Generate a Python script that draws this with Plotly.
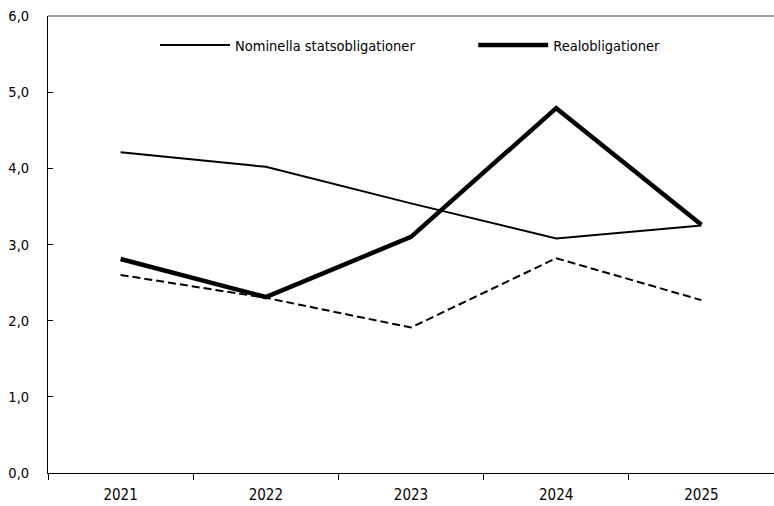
import plotly.graph_objects as go

years = ["2021", "2022", "2023", "2024", "2025"]
nominella = [4.21, 4.02, 3.54, 3.08, 3.25]
real = [2.81, 2.31, 3.10, 4.79, 3.26]
streckad = [2.60, 2.30, 1.91, 2.82, 2.27]

FONT = "DejaVu Sans Condensed, Liberation Sans"

fig = go.Figure()
fig.add_trace(go.Scatter(
    x=years, y=streckad, mode="lines", showlegend=False,
    line=dict(color="black", width=2, dash="8px,4px"),
))
fig.add_trace(go.Scatter(
    x=years, y=nominella, mode="lines", name="Nominella statsobligationer",
    line=dict(color="black", width=2), legend="legend",
))
fig.add_trace(go.Scatter(
    x=years, y=real, mode="lines", name="Realobligationer",
    line=dict(color="black", width=4.5), legend="legend2",
))

legend_style = dict(
    orientation="h", y=0.9365, xanchor="left", yanchor="middle",
    itemwidth=70, font=dict(size=14.5, family=FONT), bgcolor="rgba(0,0,0,0)",
)

fig.update_layout(
    width=774, height=506,
    margin=dict(l=48, r=0, t=16, b=33, autoexpand=False),
    paper_bgcolor="white", plot_bgcolor="white",
    separators=", ",
    font=dict(family=FONT, color="black", size=15),
    showlegend=True,
    legend=dict(x=0.1474, **legend_style),
    legend2=dict(x=0.5857, **legend_style),
    xaxis=dict(
        type="category", range=[-0.5, 4.5], tickson="boundaries",
        ticks="outside", ticklen=6, tickcolor="black", tickwidth=1,
        showline=True, linecolor="black", linewidth=1, ticklabelstandoff=8,
        showgrid=False, zeroline=False, tickfont=dict(size=15),
        automargin=False,
    ),
    xaxis2=dict(
        overlaying="x", anchor="y", side="bottom", range=[-0.5, 4.5],
        tickvals=[-0.5, 0.5, 1.5, 2.5, 3.5, 4.5], ticks="inside", ticklen=6,
        tickcolor="black", tickwidth=1, showticklabels=False,
        showgrid=False, zeroline=False, showline=False, automargin=False,
    ),
    yaxis=dict(
        range=[0, 6], dtick=1, tickformat=".1f",
        ticks="inside", ticklen=5, tickcolor="black", tickwidth=1,
        showline=True, linecolor="black", linewidth=1, ticklabelstandoff=15,
        showgrid=False, zeroline=False, tickfont=dict(size=14.5),
        automargin=False,
    ),
    shapes=[dict(type="line", xref="paper", yref="paper", x0=0, x1=1, y0=1, y1=1,
                 line=dict(color="#808080", width=1.5))],
)

fig.write_html("out.html")
